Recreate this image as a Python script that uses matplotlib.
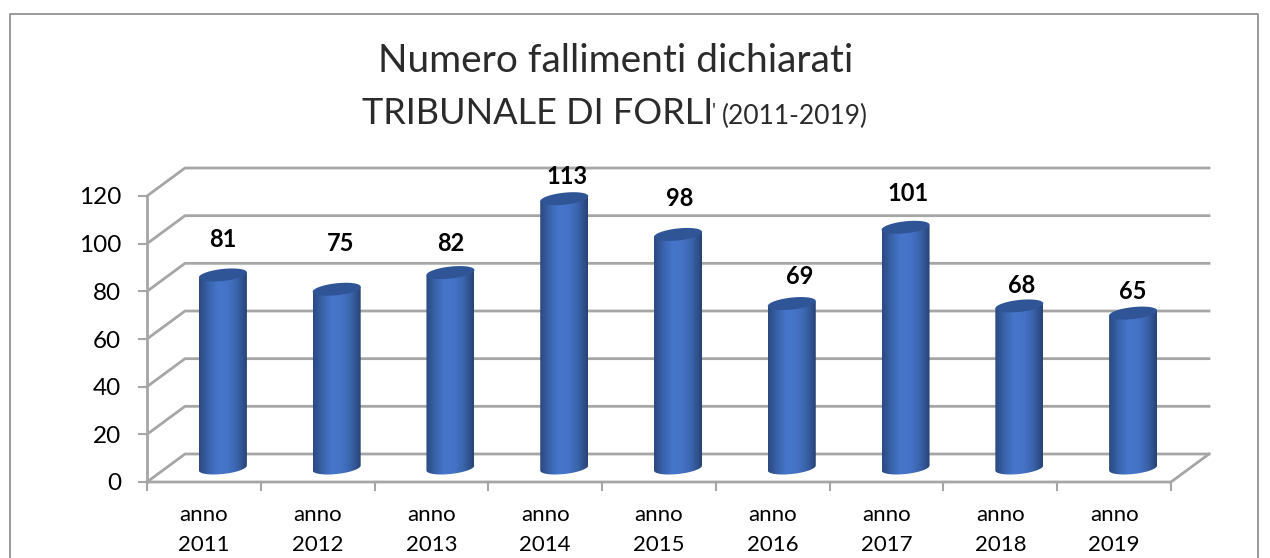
import numpy as np
import matplotlib
matplotlib.use("Agg")
import matplotlib.pyplot as plt
from matplotlib.colors import LinearSegmentedColormap
from matplotlib.lines import Line2D
from matplotlib.patches import PathPatch
from matplotlib.path import Path

years = ["2011", "2012", "2013", "2014", "2015", "2016", "2017", "2018", "2019"]
values = [81, 75, 82, 113, 98, 69, 101, 68, 65]
y_ticks = [0, 20, 40, 60, 80, 100, 120]

# hand placed data labels in the original (pixels from the top of the bar)
label_dx = [0, 4, 0, 3, 2, 8, 3, 2, 0]
label_dy = [37, 48, 31, 24, 38, 29, 36, 22, 24]

W, H = 1270, 558
GRAY = "#a6a6a6"
TITLE_COLOR = "#2b2b2b"
plt.rcParams["font.family"] = ["Lato", "DejaVu Sans"]

fig = plt.figure(figsize=(W / 100, H / 100), dpi=100)

# the front plane of the fake 3d box
left, right, top, bottom = 147, 1171, 196, 482
ax = fig.add_axes([left / W, 1 - bottom / H, (right - left) / W, (bottom - top) / H])
ax.set_xlim(0, len(years))
ax.set_ylim(0, 120)
ax.axis("off")

px_x = (right - left) / len(years)
px_y = (bottom - top) / 120
depth_x = 38 / px_x
depth_y = 28 / px_y

# chart border
fig.add_artist(Line2D([10 / W, 10 / W, 1258 / W, 1258 / W], [0, 1 - 14 / H, 1 - 14 / H, 0],
                      color="#9a9a9a", lw=1.4))

# walls
n = len(years)
for t in y_ticks:
    ax.plot([0, depth_x, n + depth_x], [t, t + depth_y, t + depth_y], color=GRAY, lw=2, clip_on=False, zorder=1)
    ax.plot([0, -8 / px_x], [t, t], color=GRAY, lw=1.5, clip_on=False, zorder=1)
    ax.text(-26 / px_x, t - 2 / px_y, str(t), ha="right", va="center", fontsize=17.5, color="black")
ax.plot([0, 0], [0, 120], color=GRAY, lw=2, clip_on=False, zorder=1)
ax.plot([0, n, n + depth_x], [0, 0, depth_y], color=GRAY, lw=2, clip_on=False, zorder=1)
for i in range(n + 1):
    ax.plot([i, i], [0, -8 / px_y], color=GRAY, lw=1.5, clip_on=False, zorder=1)

# cylinders
cmap = LinearSegmentedColormap.from_list("cyl", ["#2b4a80", "#3a64ad", "#4676cb", "#4473c6", "#3a63ab", "#274476"])
grad = np.linspace(0, 1, 64).reshape(1, -1)
bar_w = 48 / px_x
ell_h = 12 / px_y
tilt = 2.5 / px_y

for i, v in enumerate(values):
    cx = i + 0.5 + 0.5 * depth_x
    base = 0.5 * depth_y
    topv = v + base
    x0, x1 = cx - bar_w / 2, cx + bar_w / 2

    # body outline, with the rounded bottom
    t = np.linspace(np.pi, 2 * np.pi, 30)
    bx = cx + bar_w / 2 * np.cos(t)
    by = base + ell_h / 2 * np.sin(t) + tilt * np.cos(t)
    verts = list(zip(bx, by)) + [(x1, topv + tilt), (x0, topv - tilt), (bx[0], by[0])]
    path = Path(verts)
    im = ax.imshow(grad, extent=[x0, x1, 0, topv + tilt], aspect="auto", cmap=cmap, zorder=3, clip_on=True)
    im.set_clip_path(PathPatch(path, transform=ax.transData))

    # top cap
    t = np.linspace(0, 2 * np.pi, 60)
    cap_x = cx + bar_w / 2 * np.cos(t)
    cap_y = topv + ell_h / 2 * np.sin(t) + tilt * np.cos(t)
    ax.fill(cap_x, cap_y, color="#2f5597", lw=0, zorder=4, clip_on=False)

    ax.annotate(str(v), (cx, topv), xytext=(label_dx[i], label_dy[i] - 2), textcoords="offset pixels",
                ha="center", va="center", fontsize=17, fontweight="bold", color="black",
                annotation_clip=False, zorder=5)

    ax.text(i + 0.5, -33 / px_y, "anno", ha="center", va="center", fontsize=16, color="black")
    ax.text(i + 0.5, -63 / px_y, years[i], ha="center", va="center", fontsize=16, color="black")

ax.set_xlim(0, n)
ax.set_ylim(0, 120)

# title
fig.text(616 / W, 1 - 61 / H, "Numero fallimenti dichiarati", ha="center", va="center", fontsize=28, color=TITLE_COLOR)
fig.text(362 / W, 1 - 114 / H, "TRIBUNALE DI FORLI", ha="left", va="center", fontsize=26, color=TITLE_COLOR)
fig.text(712 / W, 1 - 112 / H, "'", ha="left", va="center", fontsize=14, color=TITLE_COLOR)
fig.text(722 / W, 1 - 116 / H, "(2011-2019)", ha="left", va="center", fontsize=19, color=TITLE_COLOR)

fig.savefig("out.png", dpi=100, facecolor="white")
